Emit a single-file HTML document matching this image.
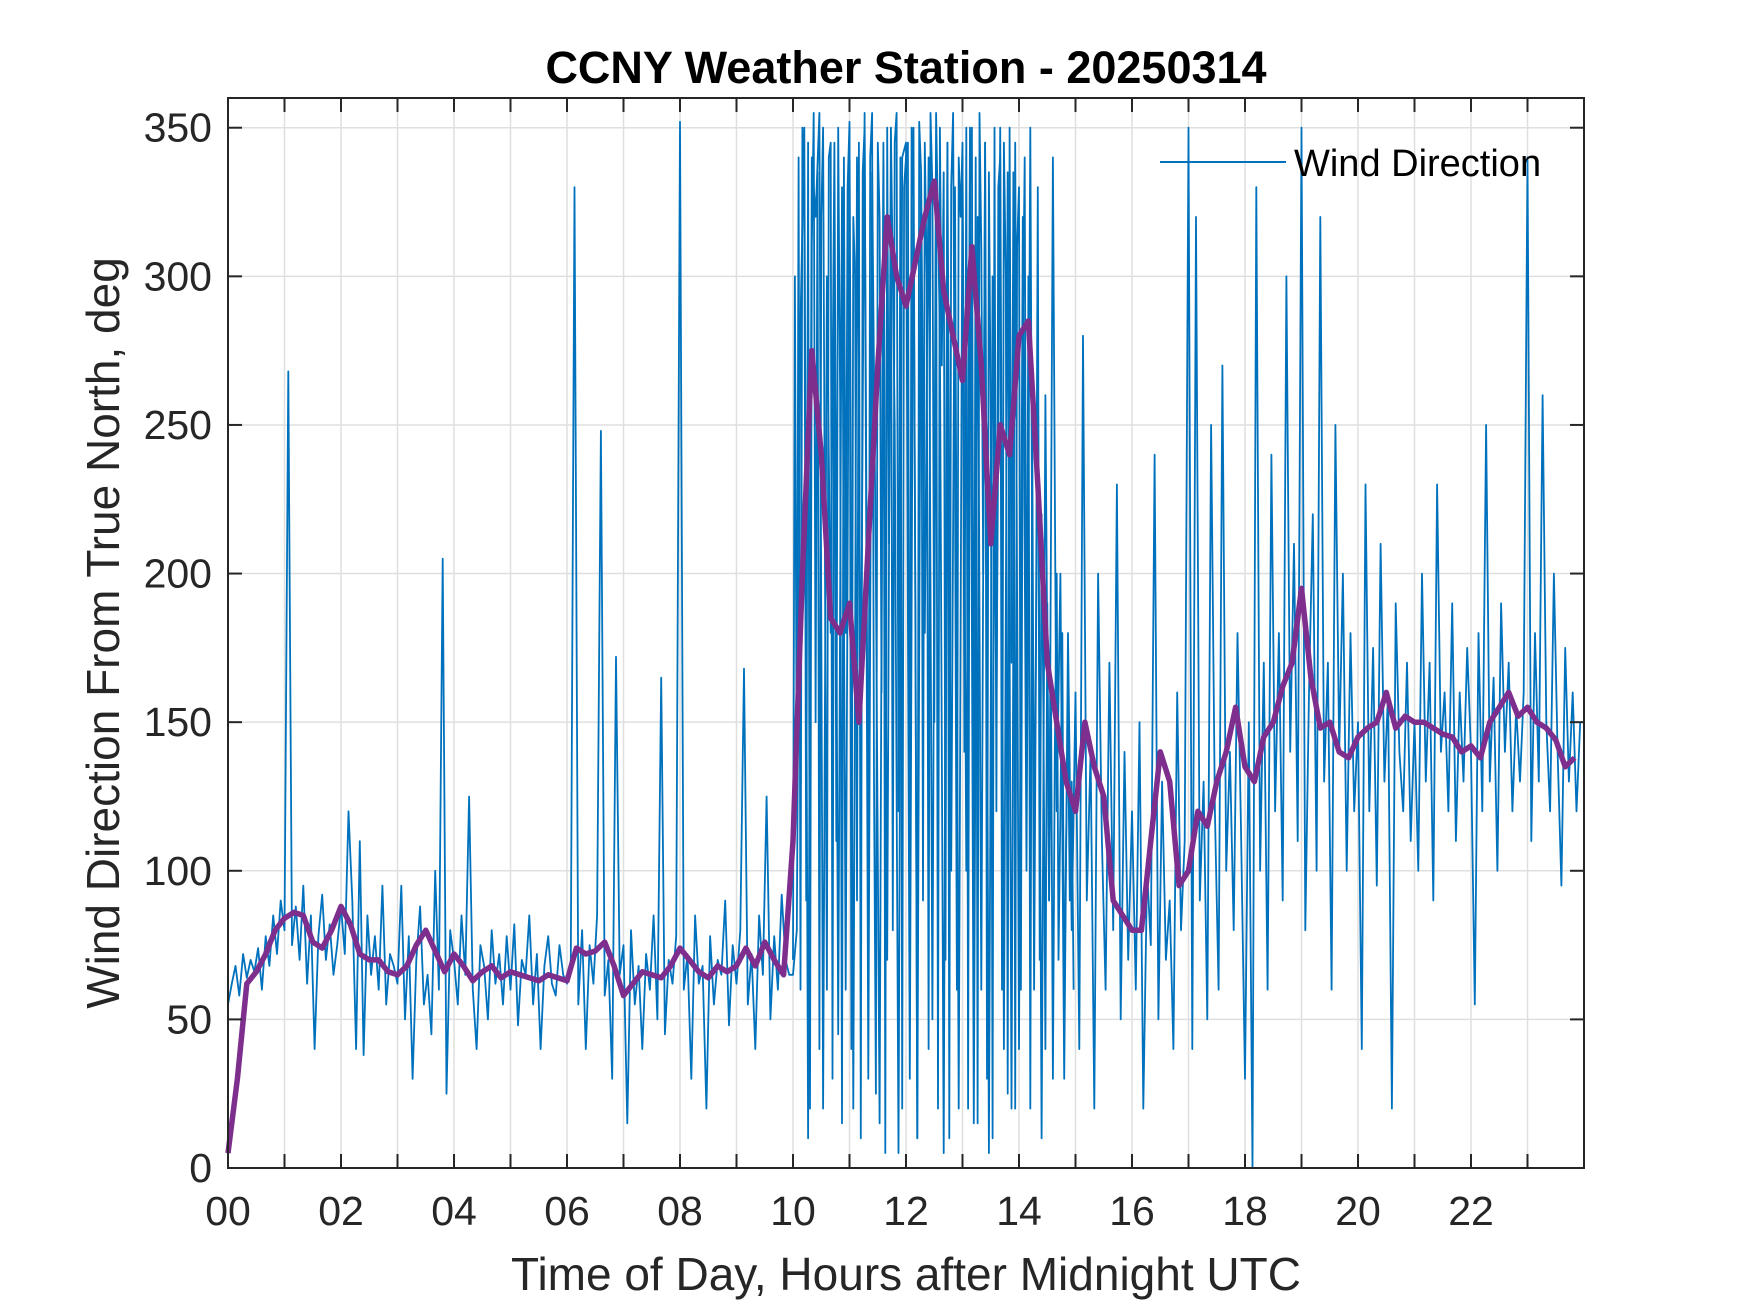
<!DOCTYPE html>
<html><head><meta charset="utf-8"><style>
body{margin:0;background:#fff}
svg{display:block;font-family:"Liberation Sans",Arial,sans-serif}
</style></head><body>
<svg id="chart" width="1750" height="1313" viewBox="0 0 1750 1313">
<rect width="1750" height="1313" fill="#fff"/>
<g id="grid"></g>
<g id="series"></g>
<g id="axes"></g>
<text x="906" y="83" text-anchor="middle" font-size="45" font-weight="bold" fill="#000">CCNY Weather Station - 20250314</text>
<text x="906" y="1290" text-anchor="middle" font-size="46" fill="#262626">Time of Day, Hours after Midnight UTC</text>
<text transform="translate(119,633) rotate(-90)" text-anchor="middle" font-size="46" fill="#262626">Wind Direction From True North, deg</text>
<g>
<line x1="1160" y1="162" x2="1286" y2="162" stroke="#0072BD" stroke-width="2"/>
<text x="1294" y="176" font-size="38" fill="#000">Wind Direction</text>
</g>
</svg>
<script>
const windDir = [
55,62,68,58,72,64,70,66,74,60,78,68,85,72,90,
80,268,75,88,70,95,62,85,40,78,92,70,82,65,75,
88,72,120,90,40,110,38,85,65,78,60,95,55,72,68,
62,95,50,78,30,70,88,55,65,45,100,60,205,25,80,
70,55,85,65,125,60,40,75,68,50,80,62,72,55,78,
60,82,48,70,65,85,55,72,40,68,78,62,58,75,65,
62,70,330,55,80,40,75,62,85,248,58,70,30,172,65,
75,15,80,55,68,40,72,60,85,50,165,45,70,62,78,
352,60,72,30,85,62,68,20,78,55,70,65,90,48,75,
62,80,168,55,72,40,85,65,125,50,78,60,92,70,65,
65,80,285,350,10,340,320,355,20,300,180,345,45,330,60,
350,20,340,150,355,30,335,200,15,345,70,350,250,5,340,
345,30,350,10,335,180,340,50,355,280,5,345,100,330,20,
340,100,350,15,320,60,345,5,300,150,350,40,335,20,345,
40,320,100,350,60,280,10,260,90,340,120,200,30,180,80,
160,40,280,90,140,20,200,110,60,170,80,230,50,140,70,
120,60,150,20,100,75,240,50,130,70,90,40,160,80,110,
350,40,320,90,130,50,250,120,60,270,100,140,80,180,110,
30,150,0,330,100,170,60,240,120,180,90,300,140,210,110,
350,80,160,220,100,320,130,170,60,250,140,200,100,180,120,
150,40,230,120,175,95,210,130,160,20,190,140,120,170,110,
150,100,200,130,170,90,230,140,160,120,190,110,160,130,175,
140,55,180,120,250,130,165,100,190,140,170,120,155,130,160,
340,110,180,130,260,150,120,200,140,95,175,130,160,120,150
];
// denser extra readings 10:00-15:00, one every 2 minutes
const windDirBusy = [
70,300,120,340,60,350,330,90,345,20,310,355,150,335,40,320,350,200,60,340,345,30,325,110,350,260,15,340,180,330,
352,40,320,300,90,345,10,335,350,220,70,340,355,130,25,345,320,160,338,5,350,210,330,80,345,355,120,340,20,330,
340,345,60,350,325,190,10,352,335,90,345,300,40,355,330,150,340,20,350,270,335,70,345,10,330,355,230,60,340,320,
345,140,350,20,330,350,90,340,15,355,310,200,345,30,335,250,10,350,120,330,340,60,345,300,25,350,170,335,20,310,
330,60,280,340,130,300,20,250,100,180,330,70,220,150,40,190,90,160,30,140,200,70,120,180,50,110,150,90,130,60
];
const windAvg = [
5,30,62,66,72,80, 84,86,85,76,74,80, 88,82,72,70,70,66, 65,68,75,80,73,66,
72,68,63,66,68,64, 66,65,64,63,65,64, 63,74,72,73,76,68, 58,62,66,65,64,68,
74,70,66,64,68,66, 68,74,68,76,70,65, 110,200,275,240,185,180, 190,150,210,270,320,300,
290,305,320,332,295,280, 265,310,270,210,250,240, 280,285,230,170,150,130, 120,150,135,125,90,85,
80,80,110,140,130,95, 100,120,115,130,140,155, 135,130,145,150,162,170, 195,165,148,150,140,138,
145,148,150,160,148,152, 150,150,148,146,145,140, 142,138,150,155,160,152, 155,150,148,144,135,138
];
const xTicks = [0,2,4,6,8,10,12,14,16,18,20,22];
const xTickLabels = ["00","02","04","06","08","10","12","14","16","18","20","22"];
const yTicks = [0,50,100,150,200,250,300,350];
const rawStep = 1/15, busyStart = 10, busyStep = 1/30, avgStep = 1/6;

const L=228,R=1584,T=98,B=1168;
const xs = h => L + (h/24)*(R-L);
const ys = v => B - (v/360)*(B-T);
const NS="http://www.w3.org/2000/svg";
function mk(tag, attrs, parent){const e=document.createElementNS(NS,tag);for(const k in attrs)e.setAttribute(k,attrs[k]);parent.appendChild(e);return e;}
const grid=document.getElementById('grid'), series=document.getElementById('series'), axes=document.getElementById('axes');

for(let h=1;h<24;h++){
  const g=mk('line',{x1:xs(h),x2:xs(h),y1:T,y2:B,stroke:'#dfdfdf','stroke-width':1.5},grid);
  
  
  const t1=mk('line',{x1:xs(h),x2:xs(h),y1:B,y2:B-14,stroke:'#262626','stroke-width':2},axes);
  
  
  const t2=mk('line',{x1:xs(h),x2:xs(h),y1:T,y2:T+14,stroke:'#262626','stroke-width':2},axes);
  
  
}
xTicks.forEach((h,i)=>{
  const t=mk('text',{x:xs(h),y:B+57,'text-anchor':'middle','font-size':41,fill:'#262626'},axes);
  t.textContent=xTickLabels[i];
  
  
});
yTicks.forEach(v=>{
  if(v>0){
    const g=mk('line',{x1:L,x2:R,y1:ys(v),y2:ys(v),stroke:'#dfdfdf','stroke-width':1.5},grid);
    
    
  }
  const a=mk('line',{x1:L,x2:L+14,y1:ys(v),y2:ys(v),stroke:'#262626','stroke-width':2},axes);
  
  
  const b=mk('line',{x1:R,x2:R-14,y1:ys(v),y2:ys(v),stroke:'#262626','stroke-width':2},axes);
  
  
  const t=mk('text',{x:L-16,y:ys(v)+14,'text-anchor':'end','font-size':41,fill:'#262626'},axes);
  t.textContent=String(v);
  
  
});
const frame=mk('rect',{x:L,y:T,width:R-L,height:B-T,fill:'none',stroke:'#262626','stroke-width':2},axes);



const rawPts=windDir.map((v,i)=>xs(i*rawStep).toFixed(1)+','+ys(v).toFixed(1)).join(' ');
const rawLine=mk('polyline',{points:rawPts,fill:'none',stroke:'#0072BD','stroke-width':1.8,'stroke-linejoin':'round'},series);


const busyPts=windDirBusy.map((v,i)=>xs(busyStart+i*busyStep).toFixed(1)+','+ys(v).toFixed(1)).join(' ');
const busyLine=mk('polyline',{points:busyPts,fill:'none',stroke:'#0072BD','stroke-width':1.8,'stroke-linejoin':'round'},series);


const avgPts=windAvg.map((v,i)=>xs(i*avgStep).toFixed(1)+','+ys(v).toFixed(1)).join(' ');
const avgLine=mk('polyline',{points:avgPts,fill:'none',stroke:'#7E2F8E','stroke-width':5.5,'stroke-linejoin':'round'},series);


</script>
</body></html>
